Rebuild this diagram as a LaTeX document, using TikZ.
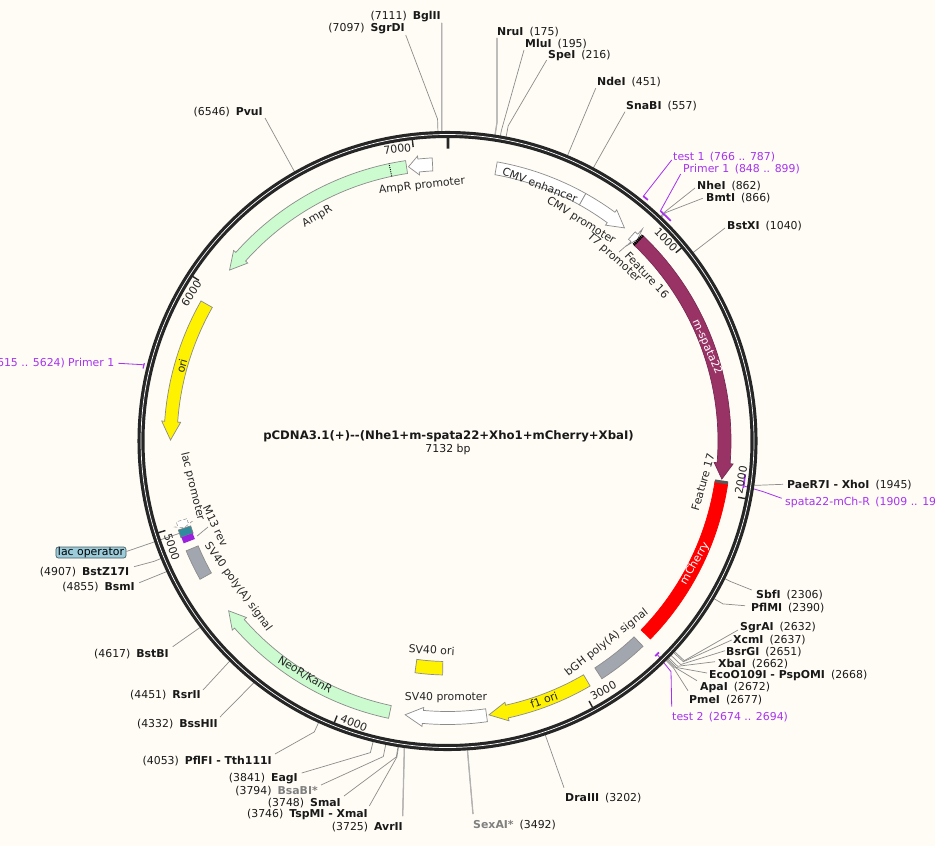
\documentclass[tikz,border=0pt]{standalone}
\usepackage{fontspec}
\setmainfont{DejaVu Sans}
\definecolor{paper}{HTML}{FFFCF5}
\definecolor{ampgreen}{HTML}{CBFBCF}
\definecolor{burg}{HTML}{993366}
\definecolor{polygrey}{HTML}{A2A7AF}
\definecolor{primerpurple}{HTML}{A733F0}
\definecolor{leadgrey}{HTML}{8C8C8C}
\definecolor{tagblue}{HTML}{9CCBDA}
\definecolor{lacteal}{HTML}{2E8C9E}
\definecolor{m13purple}{HTML}{9A22DD}
\tikzset{
  ring/.style={line width=6pt,color=black!85},
  ringgap/.style={line width=0.6pt,color=white},
  tickmark/.style={line width=1.2pt,color=black!85},
  feat/.style={draw=black!45,line width=0.6pt},
  sitelabel/.style={inner sep=0pt,yshift=-0.6pt,font=\fontsize{9.3}{11}\selectfont,text=black!90},
  featlabel/.style={inner sep=0pt,font=\fontsize{9.3}{11}\selectfont,text=black!85},
  leader/.style={draw=leadgrey,line width=0.6pt},
  paleleader/.style={draw=black!30,line width=1.1pt},
  primerline/.style={draw=primerpurple,line width=0.7pt},
  primermark/.style={draw=primerpurple,line width=1.5pt},
  primerlabel/.style={inner sep=0pt,yshift=-0.6pt,font=\fontsize{9.3}{11}\selectfont,text=primerpurple},
}
% band from a to b
\newcommand{\featbox}[3]{\draw[feat,#1] (#2:270.5) arc[start angle=#2,end angle=#3,radius=270.5] -- (#3:283.5) arc[start angle=#3,end angle=#2,radius=283.5] -- cycle;}
% band from a to head base b, tip at c
\newcommand{\featarrow}[4]{\draw[feat,#1] (#2:270.5) arc[start angle=#2,end angle=#3,radius=270.5] -- (#3:267.5) -- (#4:277) -- (#3:286.5) -- (#3:283.5) arc[start angle=#3,end angle=#2,radius=283.5] -- cycle;}
% name, text, x, y, anchor, angle, elbow radius, end x, end y
\newcommand{\site}[9]{%
  \node[sitelabel,anchor=#5] (#1) at (#3,-#4) {#2};
  \path[shift={(447.5,-441)}] (#6:309) coordinate (#1a) (#6:#7) coordinate (#1b);
  \coordinate (#1c) at (#8,-#9);
  \draw[leader] (#1a) -- (#1b) -- (#1c);}
\newcommand{\rs}[2]{\textbf{#1}\hspace{0.55em}(#2)}
\newcommand{\ls}[2]{(#1)\hspace{0.55em}\textbf{#2}}
\begin{document}
\begin{tikzpicture}[x=0.03cm,y=0.03cm]
\useasboundingbox (0,0) rectangle (935,-846);
\fill[paper] (0,0) rectangle (935,-846);

% sites, top and right
\site{nrui}{\rs{NruI}{175}}{497}{31}{west}{81.17}{322}{497}{38}
\site{mlui}{\rs{MluI}{195}}{525}{43}{west}{80.16}{315}{524}{50}
\site{spei}{\rs{SpeI}{216}}{548}{55}{west}{79.1}{321}{546.7}{60}
\site{ndei}{\rs{NdeI}{451}}{597}{81}{west}{67.2}{310}{595.7}{88.3}
\site{snabi}{\rs{SnaBI}{557}}{626}{105}{west}{61.9}{310}{625}{111.7}
\site{nhei}{\rs{NheI}{862}}{697}{185}{west}{46.5}{316}{695}{188}
\site{bmti}{\rs{BmtI}{866}}{706}{197}{west}{46.3}{316}{702.7}{198.3}
\site{bstxi}{\rs{BstXI}{1040}}{727}{225}{west}{37.5}{310}{725}{228}
\site{xhoi}{\rs{PaeR7I - XhoI}{1945}}{787}{484}{west}{-8.17}{312}{783}{484.3}
\site{sbfi}{\rs{SbfI}{2306}}{756}{594}{west}{-26.4}{316}{751.7}{590}
\site{pflmi}{\rs{PflMI}{2390}}{751}{607}{west}{-30.6}{320}{745}{605.7}
\site{sgrai}{\rs{SgrAI}{2632}}{740}{627}{west}{-42.85}{323}{738}{630}
\site{xcmi}{\rs{XcmI}{2637}}{733}{639}{west}{-43.1}{323}{731.7}{640}
\site{bsrgi}{\rs{BsrGI}{2651}}{726}{651}{west}{-43.8}{323}{725}{650.7}
\site{xbai}{\rs{XbaI}{2662}}{718}{663}{west}{-44.4}{322}{715}{661.7}
\site{psp}{\rs{EcoO109I - PspOMI}{2668}}{709}{675}{west}{-44.7}{322}{707}{673}
\site{apai}{\rs{ApaI}{2672}}{700}{687}{west}{-44.9}{320}{697}{680.7}
\site{pmei}{\rs{PmeI}{2677}}{689}{699}{west}{-45.1}{320}{688}{690.7}
\site{draiii}{\rs{DraIII}{3202}}{565}{797}{west}{-71.6}{310}{564}{787.7}
\site{sexai}{\textcolor{gray}{\textbf{SexAI*}}\hspace{0.55em}(3492)}{473}{824}{west}{-86.3}{312}{473}{814}
% sites, bottom and left
\site{avrii}{\ls{3725}{AvrII}}{403}{826}{east}{-98}{310}{402.7}{816}
\site{xmai}{\ls{3746}{TspMI - XmaI}}{368}{814}{east}{-99.1}{320}{369.3}{806}
\site{smai}{\ls{3748}{SmaI}}{341}{802}{east}{-99.2}{320}{344}{796}
\site{bsabi}{(3794)\hspace{0.55em}\textcolor{gray}{\textbf{BsaBI*}}}{318}{790}{east}{-101.5}{322}{321}{785}
\site{eagi}{\ls{3841}{EagI}}{298}{778}{east}{-103.9}{321}{301.7}{773}
\site{tth}{\ls{4053}{PflFI - Tth111I}}{272}{760}{east}{-114.6}{320}{275}{754}
\site{bsshii}{\ls{4332}{BssHII}}{218}{723}{east}{-128.7}{310}{220}{717}
\site{rsrii}{\ls{4451}{RsrII}}{201}{694}{east}{-134.7}{310}{203}{690}
\site{bstbi}{\ls{4617}{BstBI}}{169}{653}{east}{-143}{310}{172.7}{646.7}
\site{bsmi}{\ls{4855}{BsmI}}{135}{586.5}{east}{-155.06}{310}{139.3}{582.7}
\site{bstz}{\ls{4907}{BstZ17I}}{129.5}{571.5}{east}{-157.7}{317}{134}{566.7}
\site{pvui}{\ls{6546}{PvuI}}{263}{111}{east}{119.6}{310}{265}{118}
\site{sgrdi}{\ls{7097}{SgrDI}}{405}{28}{east}{91.77}{322}{405.7}{35}
\site{bglii}{\ls{7111}{BglII}}{441}{16}{east}{91.06}{310}{441.7}{23}
% pale leaders
\foreach \nm in {bglii,nrui,avrii,sexai}
  \draw[paleleader] (\nm a) -- (\nm b) -- (\nm c);

% primers
\node[primerlabel,anchor=west] (test1) at (673,-156) {test 1\hspace{0.5em}(766 .. 787)};
\node[primerlabel,anchor=west] (primer1) at (683,-168) {Primer 1\hspace{0.5em}(848 .. 899)};
\node[primerlabel,anchor=west] (mchr) at (785,-502) {spata22-mCh-R\hspace{0.5em}(1909 .. 19};
\node[primerlabel,anchor=west] (test2) at (672,-716.5) {test 2\hspace{0.5em}(2674 .. 2694)};
\node[primerlabel,anchor=east] (primer1b) at (114.5,-362.5) {615 .. 5624)\hspace{0.3em}Primer 1};
\coordinate (test1end) at (671.7,-160);
\coordinate (primer1end) at (680.7,-174);
\coordinate (mchrknee) at (763.3,-491.7);
\coordinate (mchrend) at (781.7,-498.3);
\coordinate (test2knee) at (671,-671.7);
\coordinate (test2end) at (671.7,-706.7);
\coordinate (primer1bend) at (118.3,-363.3);
\begin{scope}[shift={(447.5,-441)}]
\draw[primerline] (test1end) -- (51.33:313);
\draw[primerline] (primer1end) -- (47.2:313);
\draw[primerline] (mchrend) -- (mchrknee) -- (-8.6:299);
\draw[primerline] (test2end) -- (test2knee) -- (-45.5:299);
\draw[primerline] (primer1bend) -- (165.9:313);
\coordinate (laccore) at (199:284);
\end{scope}

% lac operator tag
\node[draw=black!55!tagblue,fill=tagblue,rounded corners=2pt,inner sep=0pt,
  minimum width=2.1cm,minimum height=0.33cm,line width=0.6pt,font=\fontsize{9.3}{11}\selectfont] (lacop) at (91,-552.5) {lac operator};
\draw[leader] (lacop.east) ++(0,1) -- (laccore);

\begin{scope}[shift={(447.5,-441)}]
% backbone
\draw[ring] (0,0) circle[radius=306.5];
\draw[ringgap] (0,0) circle[radius=306.5];
\draw[line width=2.5pt,color=black!85] (89.9:292.5) -- (89.9:304);
\foreach \ang in {39.52,-10.95,-61.43,-111.9,-162.4,147.14,96.66}
  \draw[tickmark] (\ang:296) -- (\ang:303.5);
% primer marks
\draw[primermark] (51.33:313.5) arc[start angle=51.33,end angle=50.27,radius=313.5];
\draw[primermark] (47.2:313.5) arc[start angle=47.2,end angle=44.6,radius=313.5];
\draw[primermark] (-6.4:299.5) arc[start angle=-6.4,end angle=-9,radius=299.5];
\draw[primermark] (-45:299) arc[start angle=-45,end angle=-46,radius=299];
\draw[primermark,line width=1pt] (166.6:313) arc[start angle=166.6,end angle=165.6,radius=313];

% features
\featbox{fill=white}{79.9}{60.8}
\featarrow{fill=white}{60.8}{53.8}{50.3}
\featarrow{fill=burg,draw=burg!80!black}{46.4}{-4.6}{-7.9}
\featbox{fill=red,draw=red}{-8.5}{-44.3}
\draw[line width=2.6pt,color=black!65] (-8.5:270.5) -- (-8.5:283.5);
\featbox{fill=polygrey}{-46.4}{-57}
\featarrow{fill=yellow}{-59.8}{-77.6}{-81.4}
\featarrow{fill=white}{-81.9}{-95.1}{-98.8}
\featarrow{fill=ampgreen}{-102}{-138.7}{-142.2}
\featbox{fill=polygrey}{-150.8}{-157.2}
\featarrow{fill=yellow}{150.4}{176}{179.8}
\featarrow{fill=ampgreen}{98.5}{138.3}{141.9}
\featarrow{fill=white}{93.1}{96}{98.1}
\draw[densely dotted,line width=0.8pt] (101.9:270.5) -- (101.9:283.5);
\draw[feat,fill=yellow] (-98:220.5) arc[start angle=-98,end angle=-91.2,radius=220.5] -- (-91.2:234) arc[start angle=-91.2,end angle=-98,radius=234] -- cycle;
% thin features
\draw[feat,fill=white] (48.1:271) -- (48.1:281) -- (47.4:281) -- (47.4:288) -- (46.7:277) -- (47.4:266) -- (47.4:271) -- cycle;
\draw[line width=2.4pt,black,dash pattern=on 1.2pt off 0.5pt] (46.5:270.5) -- (46.5:283.5);
\draw[feat,fill=white,densely dashed,line width=0.4pt] (196.6:272) -- (196.6:283) -- (197.5:283) -- (197.5:286) -- (198.2:277) -- (197.5:268) -- (197.5:272) -- cycle;
\featbox{fill=lacteal,draw=black!50}{198.3}{199.9}
\fill[m13purple] (199.9:271) arc[start angle=199.9,end angle=201.2,radius=271] -- (201.2:283) arc[start angle=201.2,end angle=199.9,radius=283] -- cycle;
\coordinate (m13core) at (200.8:268);
\coordinate (t7core) at (47.5:266);
\end{scope}
\coordinate (m13end) at (208,-527);
\coordinate (t7end) at (619,-252);
\draw[leader] (m13core) -- (m13end);
\draw[leader] (t7core) -- (t7end);

% axis labels
\node[featlabel,rotate=7] (lab7000) at (397.3,-149) {7000};
\node[featlabel,rotate=-46] (lab1000) at (666,-240) {1000};
\node[featlabel,rotate=79] (lab2000) at (741,-480) {2000};
\node[featlabel,rotate=29] (lab3000) at (603.3,-690.7) {3000};
\node[featlabel,rotate=-22] (lab4000) at (354,-723) {4000};
\node[featlabel,rotate=-72] (lab5000) at (172,-547) {5000};
\node[featlabel,rotate=57] (lab6000) at (191.3,-293.3) {6000};

% feature labels
\node[featlabel,rotate=-21] (cmve) at (540,-185) {CMV enhancer};
\node[featlabel,rotate=-32] (cmvp) at (581,-221) {CMV promoter};
\node[featlabel,rotate=-42] (t7) at (614,-258) {T7 promoter};
\node[featlabel,rotate=-47] (f16) at (647,-275) {Feature 16};
\node[featlabel,rotate=-66,text=white] (spata) at (707,-347) {m-spata22};
\node[featlabel,rotate=74] (f17) at (703,-482) {Feature 17};
\node[featlabel,rotate=60,text=white] (cherry) at (695,-563.3) {mCherry};
\node[featlabel,rotate=38] (bgh) at (606.7,-642.7) {bGH poly(A) signal};
\node[featlabel,rotate=20] (f1) at (544,-700) {f1 ori};
\node[featlabel] (sv40p) at (446,-698) {SV40 promoter};
\node[featlabel,rotate=-3] (sv40o) at (431.7,-650) {SV40 ori};
\node[featlabel,rotate=-31] (neo) at (305,-675) {NeoR/KanR};
\node[featlabel,rotate=-54] (sv40a) at (238,-587) {SV40 poly(A) signal};
\node[featlabel,rotate=-65] (m13) at (215.5,-526) {M13 rev};
\node[featlabel,rotate=-76] (lacp) at (192.5,-486.5) {lac promoter};
\node[featlabel,rotate=75] (ori) at (181.7,-366) {ori};
\node[featlabel,rotate=30] (amp) at (317.3,-216.7) {AmpR};
\node[featlabel,rotate=6] (ampp) at (422,-186) {AmpR promoter};

% title
\node[sitelabel,font=\fontsize{10}{11}\selectfont\bfseries] (title) at (448.5,-435.5) {pCDNA3.1(+)-{}-(Nhe1+m-spata22+Xho1+mCherry+XbaI)};
\node[sitelabel] (size) at (448,-449) {7132 bp};
\end{tikzpicture}
\end{document}
